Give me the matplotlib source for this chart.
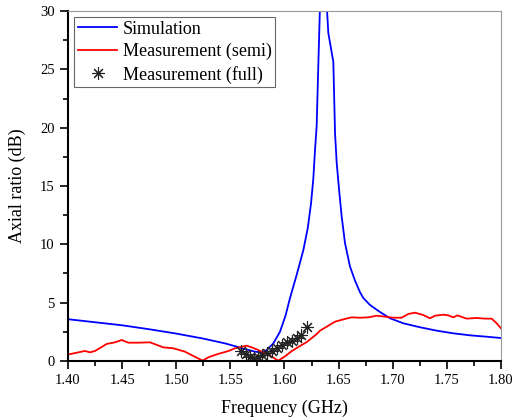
import numpy as np
import matplotlib
matplotlib.use('Agg')
import matplotlib.pyplot as plt
from matplotlib.ticker import MultipleLocator

plt.rcParams['font.family'] = ['Liberation Serif', 'DejaVu Serif']

# simulation (blue)
sim_f = [1.400, 1.425, 1.450, 1.475, 1.500, 1.525, 1.545, 1.555, 1.5605, 1.5727, 1.579,
         1.5836, 1.5897, 1.5958, 1.601, 1.6051, 1.6113, 1.6174, 1.6215, 1.6245, 1.6266,
         1.6282, 1.6297, 1.6312, 1.6328, 1.639, 1.6405, 1.6451, 1.6467, 1.6482, 1.6506,
         1.6528, 1.6559, 1.6605, 1.6651, 1.6697, 1.6728, 1.679, 1.6882, 1.6975, 1.7098,
         1.7252, 1.7406, 1.756, 1.7714, 1.7868, 1.800]
sim_ar = [3.58, 3.32, 3.06, 2.72, 2.35, 1.92, 1.51, 1.25, 1.09, 0.80, 0.72,
          0.94, 1.51, 2.50, 3.90, 5.40, 7.40, 9.50, 11.4, 13.5, 15.6,
          18.1, 20.1, 25.2, 30.5, 30.5, 28.1, 25.65, 19.5, 17.0, 14.5,
          12.4, 10.1, 8.1, 6.9, 5.9, 5.4, 4.8, 4.2, 3.66, 3.23,
          2.89, 2.60, 2.37, 2.20, 2.08, 1.97]

# measurement, semi (red)
semi_f = [1.400, 1.408, 1.4157, 1.4203, 1.425, 1.4357, 1.4434, 1.4496, 1.4557, 1.465,
          1.4757, 1.488, 1.4973, 1.508, 1.5158, 1.5244, 1.5296, 1.5374, 1.548, 1.5543,
          1.565, 1.5697, 1.5758, 1.582, 1.5882, 1.5943, 1.6005, 1.6067, 1.6159, 1.6205,
          1.6297, 1.6328, 1.639, 1.6467, 1.6544, 1.662, 1.6697, 1.6774, 1.6851, 1.6928,
          1.7005, 1.7082, 1.7144, 1.7205, 1.7282, 1.7344, 1.739, 1.7467, 1.7513, 1.756,
          1.7597, 1.7683, 1.7775, 1.7852, 1.7914, 1.796, 1.800]
semi_ar = [0.55, 0.71, 0.86, 0.74, 0.86, 1.46, 1.60, 1.80, 1.57, 1.57,
           1.60, 1.17, 1.09, 0.80, 0.43, 0.03, 0.31, 0.57, 0.85, 1.09,
           1.31, 1.17, 0.94, 0.66, 0.37, 0.03, 0.40, 0.85, 1.37, 1.62,
           2.30, 2.60, 2.94, 3.37, 3.57, 3.74, 3.71, 3.74, 3.88, 3.80,
           3.71, 3.71, 4.03, 4.14, 3.94, 3.66, 3.88, 3.97, 3.91, 3.74,
           3.91, 3.63, 3.69, 3.63, 3.63, 3.23, 2.80]

# measurement, full (asterisks)
full_f = [1.5598, 1.5642, 1.5681, 1.5721, 1.5758, 1.5795, 1.5836, 1.5882,
          1.5928, 1.5974, 1.602, 1.6067, 1.6113, 1.6152, 1.6205]
full_ar = [0.88, 0.60, 0.37, 0.28, 0.37, 0.51, 0.66, 0.88,
           1.14, 1.37, 1.61, 1.74, 1.95, 2.23, 2.94]

fig = plt.figure(figsize=(5.14, 4.2), dpi=100)
ax = fig.add_axes([0.1323, 0.1405, 0.8424, 0.8333])

ax.plot(sim_f, sim_ar, color='#0000ff', lw=1.3, label='Simulation')
ax.plot(semi_f, semi_ar, color='#ff0000', lw=1.3, label='Measurement (semi)')
ax.plot(full_f, full_ar, color='#888888', lw=0.5, alpha=0.6)
ax.plot(full_f, full_ar, ls='none', marker=(8, 2, 0), ms=9, mew=0.8,
        color='#222222', label='Measurement (full)')

ax.set_xlim(1.40, 1.80)
ax.set_ylim(0, 30)
ax.xaxis.set_major_locator(MultipleLocator(0.05))
ax.xaxis.set_minor_locator(MultipleLocator(0.025))
ax.yaxis.set_major_locator(MultipleLocator(5))
ax.yaxis.set_minor_locator(MultipleLocator(2.5))
ax.xaxis.set_major_formatter(plt.FormatStrFormatter('%.2f'))

ax.tick_params(which='both', direction='out', top=False, right=False,
               labelsize=10.5, width=1.2, colors='black')
ax.tick_params(which='major', length=6)
ax.tick_params(which='minor', length=3.5)
for s in ['top', 'right']:
    ax.spines[s].set_color('#999999')
    ax.spines[s].set_linewidth(0.8)
for s in ['left', 'bottom']:
    ax.spines[s].set_linewidth(1.5)

ax.set_xlabel('Frequency (GHz)', fontsize=13, labelpad=9)
ax.set_ylabel('Axial ratio (dB)', fontsize=13, labelpad=10)

leg = ax.legend(loc='upper left', bbox_to_anchor=(0.014, 0.983), fontsize=13,
                fancybox=False, edgecolor='#666666', framealpha=1,
                handlelength=2.2, handletextpad=0.3, labelspacing=0.3,
                borderpad=0.2, borderaxespad=0)
leg.get_frame().set_linewidth(0.8)

fig.savefig('out.png', dpi=100)
